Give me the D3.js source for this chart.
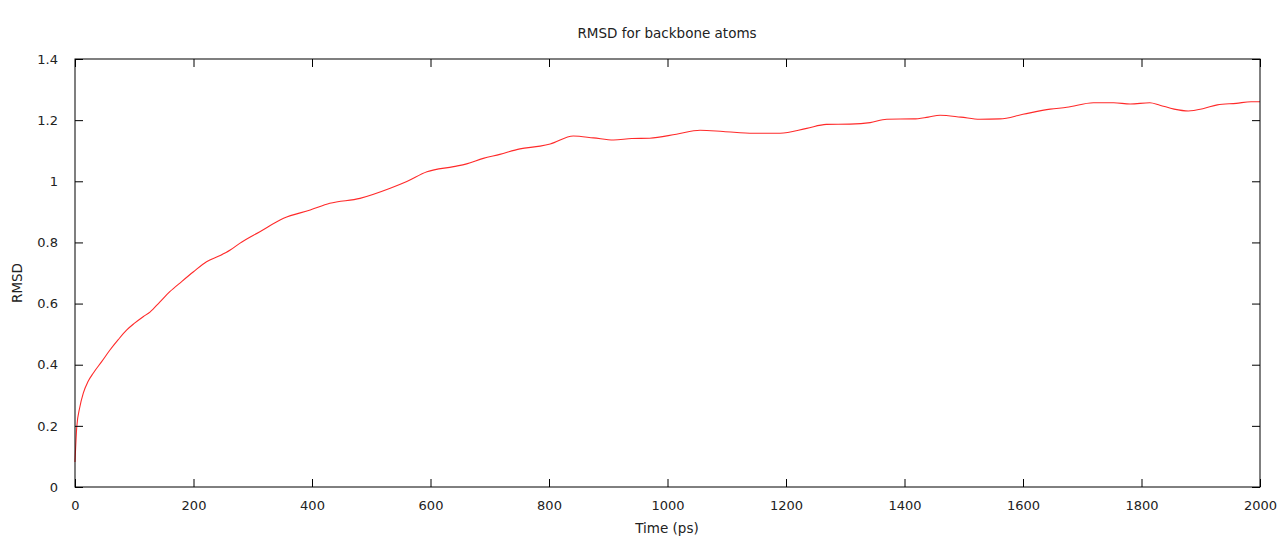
<!DOCTYPE html>
<html>
<head>
<meta charset="utf-8">
<script src="https://cdn.jsdelivr.net/npm/d3@7"></script>
<style>
  body { margin: 0; background: #fff; }
  text { font-family: "DejaVu Sans", sans-serif; fill: #222; }
</style>
</head>
<body>
<svg id="chart" width="1280" height="536"></svg>
<script>
// RMSD trace
const time = [0, 3, 8, 14, 22, 31, 45, 59, 73, 87, 100, 115, 127, 143, 160, 180, 200, 222, 245,
  262, 278, 312, 352, 397, 430, 481, 532, 560, 594, 639, 661, 689, 717, 751, 785, 802, 841,
  875, 909, 940, 970, 1015, 1055, 1094, 1145, 1190, 1235, 1268, 1308, 1342, 1370, 1415, 1440,
  1460, 1495, 1527, 1561, 1600, 1646, 1674, 1719, 1753, 1781, 1814, 1831, 1855, 1879, 1905,
  1928, 1960, 1985, 2000];
const rmsd = [0.082, 0.197, 0.26, 0.307, 0.345, 0.373, 0.41, 0.448, 0.482, 0.513, 0.535, 0.557,
  0.573, 0.605, 0.639, 0.672, 0.704, 0.737, 0.757, 0.775, 0.797, 0.835, 0.879, 0.906, 0.928,
  0.944, 0.977, 0.999, 1.031, 1.048, 1.057, 1.075, 1.088, 1.106, 1.115, 1.122, 1.148, 1.142,
  1.135, 1.14, 1.141, 1.154, 1.167, 1.163, 1.157, 1.157, 1.173, 1.186, 1.187, 1.192, 1.203,
  1.204, 1.21, 1.216, 1.21, 1.203, 1.204, 1.219, 1.236, 1.242, 1.257, 1.257, 1.253, 1.257,
  1.249, 1.236, 1.23, 1.238, 1.25, 1.255, 1.26, 1.26];

const xTicks = [0, 200, 400, 600, 800, 1000, 1200, 1400, 1600, 1800, 2000];
const yTicks = [0, 0.2, 0.4, 0.6, 0.8, 1, 1.2, 1.4];

const svg = d3.select("#chart");
const plotL = 75, plotR = 1260, plotT = 59, plotB = 487;
const tickLen = 8;

const x = d3.scaleLinear().domain([0, 2000]).range([plotL, plotR]);
const y = d3.scaleLinear().domain([0, 1.4]).range([plotB, plotT]);

const points = time.map((t, i) => [t, rmsd[i]]);

// curve
svg.append("path")
    .datum(points)
    .attr("fill", "none")
    .attr("stroke", "#ff2a2a")
    .attr("stroke-width", 1.1)
    .attr("d", d3.line()
      .x(d => x(d[0]))
      .y(d => y(d[1]))
      .curve(d3.curveMonotoneX));

// axes, ticks pointing inward on all four sides
const fmtY = d => d === 0 || d === 1 ? String(d) : d.toFixed(1);

svg.append("g")
    .attr("transform", `translate(0,${plotB})`)
    .call(d3.axisBottom(x).tickValues(xTicks).tickSize(-tickLen).tickPadding(14).tickFormat(d3.format("d")));
svg.append("g")
    .attr("transform", `translate(${plotL},0)`)
    .call(d3.axisLeft(y).tickValues(yTicks).tickSize(-tickLen).tickPadding(17).tickFormat(fmtY));
svg.append("g")
    .attr("transform", `translate(0,${plotT})`)
    .call(d3.axisTop(x).tickValues(xTicks).tickSize(-tickLen).tickFormat(""));
svg.append("g")
    .attr("transform", `translate(${plotR},0)`)
    .call(d3.axisRight(y).tickValues(yTicks).tickSize(-tickLen).tickFormat(""));

svg.selectAll(".domain").remove();
svg.selectAll(".tick line").attr("stroke", "#000");
svg.selectAll(".tick text").attr("font-size", 13).attr("fill", "#222");

// frame
svg.append("rect")
    .attr("x", plotL).attr("y", plotT)
    .attr("width", plotR - plotL).attr("height", plotB - plotT)
    .attr("fill", "none").attr("stroke", "#000").attr("stroke-width", 1);

// labels
svg.append("text")
    .attr("x", 667).attr("y", 38)
    .attr("text-anchor", "middle").attr("font-size", 13.5)
    .text("RMSD for backbone atoms");
svg.append("text")
    .attr("x", 667).attr("y", 533)
    .attr("text-anchor", "middle").attr("font-size", 13.5)
    .text("Time (ps)");
svg.append("text")
    .attr("transform", "translate(22,283) rotate(-90)")
    .attr("text-anchor", "middle").attr("font-size", 13.5)
    .text("RMSD");
</script>
</body>
</html>
